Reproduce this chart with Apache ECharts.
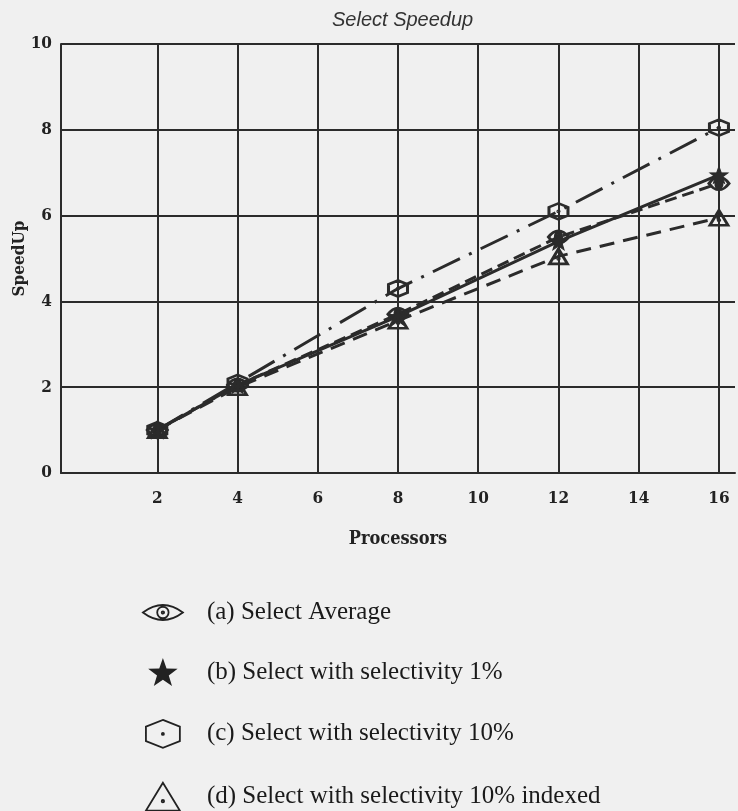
<!DOCTYPE html>
<html>
<head>
<meta charset="utf-8">
<script src="https://cdn.jsdelivr.net/npm/echarts@6/dist/echarts.min.js"></script>
<style>
html,body{margin:0;padding:0;background:#f0f0f0;}
#c{width:738px;height:811px;}
</style>
</head>
<body>
<div id="c"></div>
<script>
// ---- data ----
const processors = [2, 4, 8, 12, 16];
const selectAverage = [1.0, 2.05, 3.7, 5.5, 6.75];
const selectSel1 = [1.0, 2.05, 3.65, 5.4, 6.95];
const selectSel10 = [1.0, 2.1, 4.3, 6.1, 8.05];
const selectSel10Indexed = [1.0, 2.0, 3.55, 5.05, 5.95];
const xTickValues = [2, 4, 6, 8, 10, 12, 14, 16];
const seriesNames = [
  '(a) Select Average',
  '(b) Select with selectivity 1%',
  '(c) Select with selectivity 10%',
  '(d) Select with selectivity 10% indexed'
];

// ---- symbols ----
const eyePath = 'path://M0,9 Q20,-6 40,9 Q20,24 0,9 Z M20,3.3 A5.7,5.7 0 1,1 19.99,3.3 Z M20,7.8 A1.2,1.2 0 1,1 19.99,7.8 Z';
const starPath = 'path://M17,0 L21,11.5 L33.17,11.75 L23.47,19.1 L27,30.75 L17,23.8 L7,30.75 L10.53,19.1 L0.83,11.75 L13,11.5 Z';
const hexPath = 'path://M20,0 L40,8 L40,25 L20,33 L0,25 L0,8 Z M20,15.3 A1.2,1.2 0 1,1 19.99,15.3 Z';
const triPath = 'path://M17,0 L34,28 L0,28 Z M17,17.3 A1.2,1.2 0 1,1 16.99,17.3 Z';

const dark = '#2b2b2b';
const serif = '"DejaVu Serif Condensed", "DejaVu Serif", serif';

function pts(vals) { return processors.map((p, i) => [p, vals[i]]); }

const chart = echarts.init(document.getElementById('c'), null, {renderer: 'canvas'});

const outlined = {color: 'rgba(0,0,0,0)', borderColor: dark, borderWidth: 2.8};
const legendOutline = {color: 'rgba(0,0,0,0)', borderColor: '#222', borderWidth: 1.8};

chart.setOption({
  backgroundColor: '#f0f0f0',
  animation: false,
  title: {
    text: 'Select Speedup',
    left: 332,
    top: 10,
    padding: 0,
    textStyle: {fontFamily: '"Liberation Sans", Arial, sans-serif', fontStyle: 'italic', fontWeight: 'normal', fontSize: 20, color: '#333'}
  },
  grid: {left: 61, top: 44, right: -5, bottom: 338, containLabel: false},
  xAxis: {
    type: 'value',
    min: -0.4,
    max: 16.4,
    minInterval: 2,
    maxInterval: 2,
    name: 'Processors',
    nameLocation: 'middle',
    nameGap: 57,
    nameMoveOverlap: false,
    nameTextStyle: {fontFamily: serif, fontWeight: 'bold', fontSize: 18, color: '#222'},
    axisLine: {show: true, onZero: false, lineStyle: {color: dark, width: 2}},
    axisTick: {show: false},
    splitLine: {show: false},
    axisLabel: {
      margin: 17,
      fontFamily: serif, fontWeight: 'bold', fontSize: 17, color: '#222',
      formatter: function (v) { return xTickValues.indexOf(Math.round(v * 1000) / 1000) >= 0 ? String(v) : ''; }
    }
  },
  yAxis: {
    type: 'value',
    min: 0,
    max: 10,
    interval: 2,
    name: 'SpeedUp',
    nameLocation: 'middle',
    nameRotate: 90,
    nameGap: 33,
    nameMoveOverlap: false,
    nameTextStyle: {fontFamily: serif, fontWeight: 'bold', fontSize: 17, color: '#222'},
    axisLine: {show: true, onZero: false, lineStyle: {color: dark, width: 2}},
    axisTick: {show: false},
    splitLine: {show: true, lineStyle: {color: dark, width: 2}},
    axisLabel: {margin: 9, fontFamily: serif, fontWeight: 'bold', fontSize: 17, color: '#222'}
  },
  legend: {
    orient: 'vertical',
    left: 142,
    top: 600,
    height: 230,
    padding: 0,
    itemWidth: 40,
    itemHeight: 28,
    itemGap: 33,
    align: 'left',
    textStyle: {fontFamily: '"Liberation Serif", "Times New Roman", serif', fontSize: 25, color: '#1a1a1a', padding: [0, 0, 0, 19]},
    data: [
      {name: seriesNames[0], icon: eyePath, itemStyle: legendOutline},
      {name: seriesNames[1], icon: starPath, itemStyle: {color: '#222', borderColor: '#222', borderWidth: 0}},
      {name: seriesNames[2], icon: hexPath, itemStyle: legendOutline},
      {name: seriesNames[3], icon: triPath, itemStyle: legendOutline}
    ]
  },
  series: [
    {
      name: seriesNames[0], type: 'line', data: pts(selectAverage),
      symbol: eyePath, symbolSize: [20, 13], itemStyle: outlined,
      lineStyle: {color: dark, width: 3, type: [12, 6]},
      markLine: {
        silent: true, symbol: 'none', label: {show: false},
        lineStyle: {color: dark, width: 2, type: 'solid'},
        emphasis: {disabled: true},
        data: xTickValues.map(v => ({xAxis: v}))
      }
    },
    {
      name: seriesNames[1], type: 'line', data: pts(selectSel1),
      symbol: starPath, symbolSize: [18, 17], itemStyle: {color: dark, borderColor: dark, borderWidth: 1},
      lineStyle: {color: dark, width: 3, type: 'solid'}
    },
    {
      name: seriesNames[2], type: 'line', data: pts(selectSel10),
      symbol: hexPath, symbolSize: [19, 16], itemStyle: outlined,
      lineStyle: {color: dark, width: 3, type: [30, 10, 3, 10]}
    },
    {
      name: seriesNames[3], type: 'line', data: pts(selectSel10Indexed),
      symbol: triPath, symbolSize: [18, 15], itemStyle: outlined,
      lineStyle: {color: dark, width: 3, type: [15, 9]}
    }
  ]
});
</script>
</body>
</html>
